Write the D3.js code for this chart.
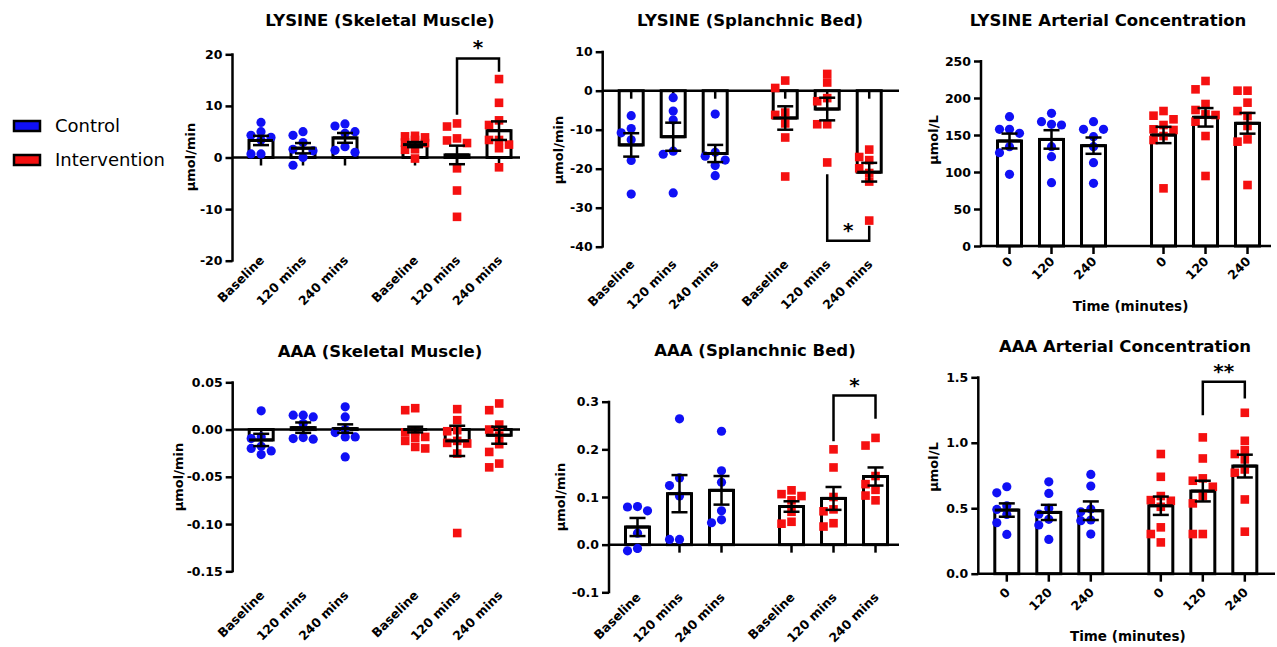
<!DOCTYPE html>
<html>
<head>
<meta charset="utf-8">
<script src="https://cdn.jsdelivr.net/npm/d3@7"></script>
<style>
  body { margin: 0; background: #fff; }
  svg { display: block; font-family: "DejaVu Sans", sans-serif; }
</style>
</head>
<body>
<script>
// ---- data ----
var groups = ['Control', 'Intervention'];
var fluxLabels = ['Baseline', '120 mins', '240 mins'];
var concLabels = ['0', '120', '240'];

// LYSINE skeletal muscle (umol/min)
var lysSmMean = [3.3, 1.8, 3.8, 2.5, 0.5, 5.2];
var lysSmSem  = [0.9, 1.0, 0.95, 0.5, 1.8, 1.8];
var lysSmPts = [
  [6.8, 5.0, 4.3, 3.9, 3.4, 0.7, 0.7],
  [5.0, 4.3, 2.9, 1.6, 1.3, 0.0, -1.5],
  [6.5, 6.1, 5.0, 4.7, 2.1, 1.4, 1.0],
  [4.2, 4.1, 3.9, 3.4, 2.9, 2.8, 1.6, 1.5, -0.2],
  [6.6, 6.0, 3.7, 3.3, 2.8, -2.1, -6.4, -11.5],
  [15.2, 10.6, 7.2, 6.3, 3.4, 3.4, 2.5, 1.8, -1.9]
];

// LYSINE splanchnic bed (umol/min)
var lysSbMean = [-13.9, -11.8, -16.1, -7.0, -4.7, -20.9];
var lysSbSem  = [3.0, 3.6, 2.2, 3.0, 2.9, 2.4];
var lysSbPts = [
  [-6.4, -9.7, -10.8, -12.6, -17.9, -26.5],
  [-1.8, -5.2, -7.5, -15.5, -16.3, -26.2],
  [-6.0, -15.8, -16.8, -17.8, -19.2, -21.8],
  [2.6, 0.7, -5.6, -6.2, -8.4, -12.0, -22.0],
  [4.3, 2.1, -1.9, -2.7, -8.6, -8.6, -18.4],
  [-15.1, -17.0, -17.8, -19.9, -21.1, -23.3, -33.3]
];

// LYSINE arterial concentration (umol/L)
var lysArtMean = [141.9, 144.0, 135.6, 150.0, 173.9, 165.8];
var lysArtSem  = [10, 12.5, 11, 11, 12.5, 14];
var lysArtPts = [
  [174.8, 157.7, 157.7, 152.3, 134.2, 126.0, 96.8],
  [179.3, 168.0, 164.4, 163.5, 134.2, 120.7, 85.6],
  [168.0, 157.7, 157.7, 147.7, 134.2, 112.6, 84.7],
  [182.4, 176.1, 171.2, 163.5, 157.7, 156.8, 148.6, 143.2, 77.9],
  [223.0, 211.7, 191.9, 183.8, 177.9, 177.0, 168.0, 148.6, 94.6],
  [209.9, 209.9, 193.7, 182.4, 175.7, 162.2, 144.1, 141.0, 82.4]
];

// AAA skeletal muscle (umol/min)
var aaaSmMean = [-0.011, 0.002, 0.001, 0.0, -0.012, -0.006];
var aaaSmSem  = [0.0065, 0.0055, 0.0045, 0.003, 0.016, 0.009];
var aaaSmPts = [
  [0.0198, -0.0078, -0.0095, -0.0177, -0.0200, -0.0226, -0.0265],
  [0.0152, 0.0152, 0.0134, 0.0064, -0.0085, -0.0095, -0.0102],
  [0.0240, 0.0134, 0.0000, -0.0032, -0.0078, -0.0078, -0.0290],
  [0.0226, 0.0205, -0.0018, -0.0030, -0.0078, -0.0088, -0.0120, -0.0184, -0.0200],
  [0.0216, 0.0099, -0.0007, -0.0018, -0.0120, -0.0141, -0.0148, -0.0254, -0.1095],
  [0.0276, 0.0205, 0.0053, 0.0000, -0.0064, -0.0155, -0.0237, -0.0360, -0.0400]
];

// AAA splanchnic bed (umol/min)
var aaaSbMean = [0.037, 0.107, 0.114, 0.080, 0.097, 0.143];
var aaaSbSem  = [0.019, 0.039, 0.030, 0.011, 0.024, 0.019];
var aaaSbPts = [
  [0.080, 0.079, 0.071, 0.024, -0.008, -0.013],
  [0.264, 0.140, 0.124, 0.102, 0.011, 0.011],
  [0.238, 0.155, 0.131, 0.071, 0.052, 0.046],
  [0.114, 0.106, 0.102, 0.093, 0.069, 0.048, 0.044],
  [0.200, 0.162, 0.100, 0.074, 0.070, 0.045, 0.038],
  [0.224, 0.208, 0.144, 0.127, 0.115, 0.103, 0.093]
];

// AAA arterial concentration (umol/L)
var aaaArtMean = [0.486, 0.468, 0.481, 0.519, 0.631, 0.822];
var aaaArtSem  = [0.051, 0.058, 0.071, 0.070, 0.079, 0.087];
var aaaArtPts = [
  [0.664, 0.618, 0.519, 0.491, 0.453, 0.389, 0.300],
  [0.702, 0.613, 0.499, 0.455, 0.415, 0.372, 0.262],
  [0.758, 0.669, 0.494, 0.473, 0.410, 0.405, 0.303],
  [0.914, 0.740, 0.593, 0.562, 0.557, 0.511, 0.354, 0.303, 0.239],
  [1.041, 0.880, 0.728, 0.710, 0.664, 0.593, 0.537, 0.303, 0.303],
  [1.229, 1.015, 0.944, 0.914, 0.873, 0.796, 0.771, 0.567, 0.321]
];

// significance brackets: [from bar, to bar, bracket line value, left leg end, right leg end, label]
var lysSmSig  = [4, 5, 19.2, 8.3, 16.6, '*'];
var lysSbSig  = [4, 5, -38.5, -21.4, -34.6, '*'];
var aaaSbSig  = [4, 5, 0.313, 0.217, 0.264, '*'];
var aaaArtSig = [4, 5, 1.466, 1.211, 1.338, '**'];

// ---- layout ----
var panels = [
  {title: 'LYSINE (Skeletal Muscle)', ylab: 'µmol/min', labels: fluxLabels,
   mean: lysSmMean, sem: lysSmSem, pts: lysSmPts, sig: lysSmSig,
   domain: [-20, 20], step: 10, dec: 0,
   ax: 232.5, yr: [260.7, 54.3], xEnd: 520, tx: 380, ty: 26, lx: 190, ly: 157, labY: 261},
  {title: 'LYSINE (Splanchnic Bed)', ylab: 'µmol/min', labels: fluxLabels,
   mean: lysSbMean, sem: lysSbSem, pts: lysSbPts, sig: lysSbSig,
   domain: [-40, 10], step: 10, dec: 0,
   ax: 602.7, yr: [246.7, 51.7], xEnd: 899, tx: 750, ty: 26, lx: 558, ly: 150, labY: 265},
  {title: 'LYSINE Arterial Concentration', ylab: 'µmol/L', labels: concLabels,
   mean: lysArtMean, sem: lysArtSem, pts: lysArtPts,
   domain: [0, 250], step: 50, dec: 0, xtitle: 'Time (minutes)', xty: 311,
   ax: 981, yr: [246, 61], xEnd: 1271, tx: 1108, ty: 26, lx: 933, ly: 140, labY: 262},
  {title: 'AAA (Skeletal Muscle)', ylab: 'µmol/min', labels: fluxLabels,
   mean: aaaSmMean, sem: aaaSmSem, pts: aaaSmPts,
   domain: [-0.15, 0.05], step: 0.05, dec: 2,
   ax: 232.7, yr: [571.3, 382.3], xEnd: 520, tx: 380, ty: 356.5, lx: 178, ly: 477, labY: 596},
  {title: 'AAA (Splanchnic Bed)', ylab: 'µmol/min', labels: fluxLabels,
   mean: aaaSbMean, sem: aaaSbSem, pts: aaaSbPts, sig: aaaSbSig,
   domain: [-0.1, 0.3], step: 0.1, dec: 1,
   ax: 609, yr: [592.3, 401.7], xEnd: 899, tx: 755, ty: 356, lx: 560, ly: 497, labY: 598},
  {title: 'AAA Arterial Concentration', ylab: 'µmol/L', labels: concLabels,
   mean: aaaArtMean, sem: aaaArtSem, pts: aaaArtPts, sig: aaaArtSig,
   domain: [0, 1.5], step: 0.5, dec: 1, xtitle: 'Time (minutes)', xty: 641,
   ax: 978.3, yr: [573.7, 377.3], xEnd: 1275, tx: 1125, ty: 351.5, lx: 933, ly: 467, labY: 593}
];

var slots = [0, 1, 2, 3.667, 4.667, 5.667];
var blue = '#1010f5', red = '#f51010';
var barW = 24;

var svg = d3.select('body').append('svg')
    .attr('width', 1277).attr('height', 647);

// scatter-dot layout: each point goes at centre, left or right of the bar
// whichever is free (or least crowded), like Prism's column scatter
function swarm(vals, y, cx) {
    var placed = [];
    var offs = [0, -10, 10];
    return vals.map(function(v) {
        var py = y(v), best = 0, bestGap = -1;
        for (var k = 0; k < offs.length; k++) {
            var gap = d3.min(placed, function(p) {
                return Math.max(Math.abs(p.x - offs[k]), Math.abs(p.y - py));
            });
            if (gap === undefined) gap = Infinity;
            if (gap >= 8.5) { best = offs[k]; bestGap = gap; break; }
            if (gap > bestGap) { bestGap = gap; best = offs[k]; }
        }
        placed.push({x: best, y: py});
        return {x: cx + best, y: py};
    });
}

panels.forEach(function(p) {
    var g = svg.append('g');
    var y = d3.scaleLinear().domain(p.domain).range(p.yr);
    var x = d3.scaleLinear().domain([0, 1]).range([p.ax + 28.5, p.ax + 70.5]);
    var fmt = d3.format('.' + p.dec + 'f');
    var ticks = d3.range(p.domain[0], p.domain[1] + p.step / 2, p.step);

    // y axis
    var yAxis = g.append('g')
        .attr('transform', 'translate(' + p.ax + ',0)')
        .call(d3.axisLeft(y).tickValues(ticks).tickSize(7).tickPadding(3)
              .tickFormat(function(d) { return fmt(Math.abs(d) < 1e-9 ? 0 : d).replace('−', '-'); }));
    yAxis.select('.domain').attr('stroke', '#000').attr('stroke-width', 2.5)
        .attr('d', 'M0,' + (p.yr[0] + 1) + 'V' + (p.yr[1] - 1));
    yAxis.selectAll('.tick line').attr('stroke', '#000').attr('stroke-width', 2.5);
    yAxis.selectAll('.tick text')
        .attr('font-size', 12.5).attr('font-weight', 'bold')
        .attr('font-family', '"DejaVu Sans", sans-serif').attr('fill', '#000');

    // bars
    var y0 = y(0);
    g.selectAll('rect.bar').data(p.mean).enter().append('rect')
        .attr('class', 'bar')
        .attr('x', function(d, i) { return x(slots[i]) - barW / 2; })
        .attr('y', function(d) { return Math.min(y(d), y0); })
        .attr('width', barW)
        .attr('height', function(d) { return Math.abs(y(d) - y0); })
        .attr('fill', 'none').attr('stroke', '#000').attr('stroke-width', 3);

    // x axis line at zero with ticks
    g.append('line')
        .attr('x1', p.ax).attr('x2', p.xEnd).attr('y1', y0).attr('y2', y0)
        .attr('stroke', '#000').attr('stroke-width', 2.5);
    g.selectAll('line.xt').data(slots).enter().append('line')
        .attr('class', 'xt')
        .attr('x1', function(d) { return x(d); }).attr('x2', function(d) { return x(d); })
        .attr('y1', y0).attr('y2', y0 + 8)
        .attr('stroke', '#000').attr('stroke-width', 2.5);

    // points
    p.pts.forEach(function(vals, i) {
        var pos = swarm(vals, y, x(slots[i]));
        if (i < 3) {
            g.selectAll(null).data(pos).enter().append('circle')
                .attr('cx', function(d) { return d.x; })
                .attr('cy', function(d) { return d.y; })
                .attr('r', 4.6).attr('fill', blue);
        } else {
            g.selectAll(null).data(pos).enter().append('rect')
                .attr('x', function(d) { return d.x - 4.3; })
                .attr('y', function(d) { return d.y - 4.3; })
                .attr('width', 8.6).attr('height', 8.6).attr('fill', red);
        }
    });

    // error bars (SEM)
    p.mean.forEach(function(m, i) {
        var cx = x(slots[i]), lo = y(m - p.sem[i]), hi = y(m + p.sem[i]);
        var eb = g.append('g').attr('stroke', '#000').attr('stroke-width', 2.5);
        eb.append('line').attr('x1', cx).attr('x2', cx).attr('y1', lo).attr('y2', hi);
        eb.append('line').attr('x1', cx - 8).attr('x2', cx + 8).attr('y1', lo).attr('y2', lo);
        eb.append('line').attr('x1', cx - 8).attr('x2', cx + 8).attr('y1', hi).attr('y2', hi);
        eb.append('line').attr('x1', cx - barW / 2).attr('x2', cx + barW / 2)
            .attr('y1', y(m)).attr('y2', y(m)).attr('stroke-width', 3);
    });

    // significance bracket
    if (p.sig) {
        var s = p.sig, xa = x(slots[s[0]]), xb = x(slots[s[1]]);
        g.append('path')
            .attr('d', 'M' + xa + ',' + y(s[3]) + 'V' + y(s[2]) + 'H' + xb + 'V' + y(s[4]))
            .attr('fill', 'none').attr('stroke', '#000').attr('stroke-width', 2.5);
        g.append('text')
            .attr('x', (xa + xb) / 2).attr('y', y(s[2]) - 4)
            .attr('text-anchor', 'middle').attr('font-weight', 'bold')
            .attr('font-size', 20).text(s[5]);
    }

    // x tick labels
    var labs = p.labels.concat(p.labels);
    g.selectAll('text.xl').data(labs).enter().append('text')
        .attr('class', 'xl')
        .attr('transform', function(d, i) {
            return 'translate(' + (x(slots[i]) + 4) + ',' + p.labY + ') rotate(-45)';
        })
        .attr('text-anchor', 'end').attr('font-weight', 'bold').attr('font-size', 12.5)
        .text(function(d) { return d; });

    // titles
    g.append('text').attr('x', p.tx).attr('y', p.ty)
        .attr('text-anchor', 'middle').attr('font-weight', 'bold').attr('font-size', 16.5)
        .text(p.title);
    g.append('text')
        .attr('transform', 'translate(' + p.lx + ',' + p.ly + ') rotate(-90)')
        .attr('dy', '0.35em')
        .attr('text-anchor', 'middle').attr('font-weight', 'bold').attr('font-size', 13)
        .text(p.ylab);
    if (p.xtitle) {
        g.append('text').attr('x', (x(slots[0]) + x(slots[5])) / 2 + 2).attr('y', p.xty)
            .attr('text-anchor', 'middle').attr('font-weight', 'bold').attr('font-size', 13.5)
            .text(p.xtitle);
    }
});

// legend
var legend = svg.append('g').selectAll('g').data(groups).enter().append('g')
    .attr('transform', function(d, i) { return 'translate(14,' + (121 + i * 34) + ')'; });
legend.append('rect')
    .attr('width', 26).attr('height', 10)
    .attr('fill', function(d, i) { return i ? red : blue; })
    .attr('stroke', '#000').attr('stroke-width', 2.5);
legend.append('text')
    .attr('x', 41).attr('y', 11)
    .attr('font-size', 18)
    .text(function(d) { return d; });
</script>
</body>
</html>
